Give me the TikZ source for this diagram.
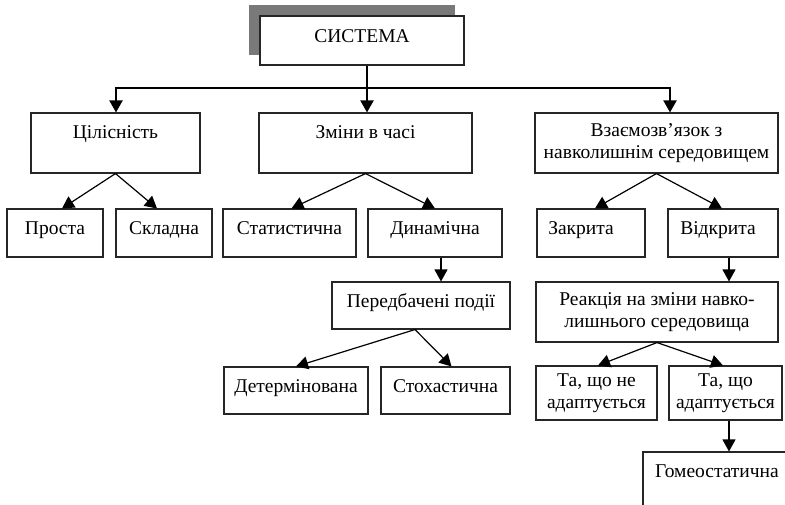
\documentclass[tikz,border=0pt]{standalone}
\usepackage{fontspec}
\setmainfont{Liberation Serif}
\usetikzlibrary{arrows.meta}
\begin{document}
\begin{tikzpicture}[x=1pt,y=-1pt,
  box/.style={draw=black!85, line width=1.1pt, fill=white, inner sep=0pt,
    align=center, font=\fontsize{19.5}{22.5}\selectfont},
  single/.style={text height=13pt, text depth=10pt},
  link/.style={line width=1.2pt, -{Triangle[width=13pt,length=12pt]}},
  bus/.style={line width=2.4pt}]
\useasboundingbox (0,0) rectangle (785,504);
\clip (0,0) rectangle (785,504);

% top box with its grey shadow
\fill[gray!95!black] (249,5) rectangle (455,55);
\node[box, single, minimum width=204pt, minimum height=49pt] (sys) at (362,40.5) {СИСТЕМА};

% first level
\node[box, minimum width=169pt, minimum height=60pt] (cil) at (115.5,143) {Цілісність\\\mbox{}};
\node[box, minimum width=213pt, minimum height=60pt] (zmin) at (365.5,143) {Зміни в часі\\\mbox{}};
\node[box, minimum width=243pt, minimum height=60pt] (vz) at (656.5,143) {Взаємозв’язок з\\навколишнім середовищем};

% second level
\node[box, single, minimum width=96pt, minimum height=48pt] (prosta) at (55,233) {Проста};
\node[box, single, minimum width=96pt, minimum height=48pt] (skl) at (164,233) {Складна};
\node[box, single, minimum width=133pt, minimum height=48pt] (stat) at (289.5,233) {Статистична};
\node[box, single, minimum width=134pt, minimum height=48pt] (din) at (435,233) {Динамічна};
\node[box, single, minimum width=108pt, minimum height=48pt] (zakr) at (591,233) {Закрита\hspace*{20pt}};
\node[box, single, minimum width=110pt, minimum height=48pt] (vidkr) at (723,233) {Відкрита\hspace*{10pt}};

% third level
\node[box, single, minimum width=178pt, minimum height=47pt] (pered) at (421,305.5) {Передбачені події};
\node[box, minimum width=242pt, minimum height=60pt] (reak) at (657,312) {Реакція на зміни навко-\\лишнього середовища};

% fourth level
\node[box, single, minimum width=144pt, minimum height=47pt] (det) at (296,390.5) {Детермінована};
\node[box, single, minimum width=129pt, minimum height=47pt] (stoh) at (445.5,390.5) {Стохастична};
\node[box, minimum width=121pt, minimum height=54pt] (tane) at (596.5,393) {Та, що не\\адаптується};
\node[box, minimum width=113pt, minimum height=54pt] (taad) at (725.5,393) {Та, що\\адаптується};

% fifth level
\node[box, minimum width=148pt, minimum height=60pt] (gom) at (717,482) {Гомеостатична\\\mbox{}};

% distribution bus under the top box
\coordinate (drop) at (367,88);
\coordinate (bl) at (116,88);
\coordinate (br) at (670,88);
\draw[line width=2pt] (sys.south -| drop) -- (drop);
\draw[bus] ([xshift=-1.2pt]bl) -- ([xshift=1.2pt]br);
\draw[link, line width=2pt] (bl) -- (bl |- cil.north);
\draw[link, line width=2pt] (drop) -- (drop |- zmin.north);
\draw[link, line width=2pt] (br) -- (br |- vz.north);

% branches
\draw[link] (cil.south) -- ([xshift=7pt]prosta.north);
\draw[link] (cil.south) -- ([xshift=-7pt]skl.north);
\draw[link] (zmin.south) -- ([xshift=2pt]stat.north);
\draw[link] (zmin.south) -- (din.north);
\draw[link] (vz.south) -- ([xshift=4pt]zakr.north);
\draw[link] (vz.south) -- ([xshift=-1pt]vidkr.north);
\draw[link] ([xshift=6pt]din.south) -- ([xshift=6pt]din.south |- pered.north);
\draw[link] ([xshift=6pt]vidkr.south) -- ([xshift=6pt]vidkr.south |- reak.north);
\draw[link] ([xshift=-6pt]pered.south) -- (det.north);
\draw[link] ([xshift=-6pt]pered.south) -- ([xshift=6pt]stoh.north);
\draw[link] (reak.south) -- ([xshift=1.5pt]tane.north);
\draw[link] (reak.south) -- ([xshift=-2.5pt]taad.north);
\draw[link] ([xshift=3.5pt]taad.south) -- ([xshift=3.5pt]taad.south |- gom.north);
\end{tikzpicture}
\end{document}
